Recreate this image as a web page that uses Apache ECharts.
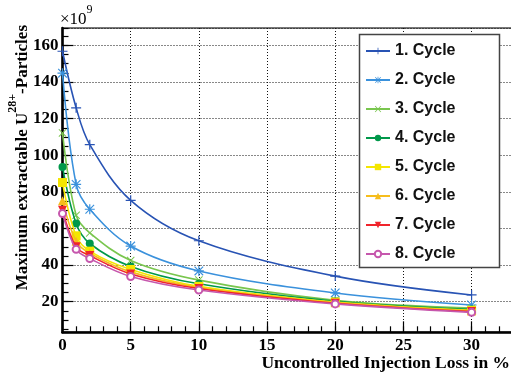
<!DOCTYPE html>
<html>
<head>
<meta charset="utf-8">
<script src="https://cdn.jsdelivr.net/npm/echarts@6/dist/echarts.min.js"></script>
<style>
  html, body { margin: 0; padding: 0; background: #fff; }
  #chart { width: 511px; height: 372px; }
</style>
</head>
<body>
<div id="chart"></div>
<script>
// Extractable U28+ particles vs. uncontrolled injection loss, one curve per cycle

const lossPct = [0, 1, 2, 5, 10, 20, 30];
const cycleNames = ['1. Cycle', '2. Cycle', '3. Cycle', '4. Cycle', '5. Cycle', '6. Cycle', '7. Cycle', '8. Cycle'];

// values in units of 1e9
const cycle1 = [156.8, 125.9, 105.8, 75.4, 53.3, 34.0, 23.7];
const cycle2 = [144.8, 84.1, 70.5, 50.4, 36.8, 24.8, 18.2];
const cycle3 = [112.2, 67.2, 57.6, 42.5, 31.8, 20.8, 16.5];
const cycle4 = [93.6, 62.7, 51.8, 39.3, 29.8, 20.3, 15.8];
const cycle5 = [85.1, 56.0, 47.6, 37.6, 28.4, 19.8, 15.3];
const cycle6 = [75.2, 53.0, 46.5, 36.3, 27.8, 19.5, 15.0];
const cycle7 = [70.0, 50.0, 45.2, 35.2, 27.2, 19.2, 14.6];
const cycle8 = [68.2, 48.6, 43.6, 33.8, 26.4, 18.8, 14.2];

const xTicks = [0, 5, 10, 15, 20, 25, 30];
const yTicks = [20, 40, 60, 80, 100, 120, 140, 160];

(function () {
  const chart = echarts.init(document.getElementById('chart'), null, { renderer: 'canvas' });

  const serif = 'Liberation Serif';
  const sans = 'Liberation Sans';

  // marker shapes (ROOT style)
  const plusPath = 'path://M4.4,0H5.6V10H4.4Z M0,4.4H10V5.6H0Z';
  const starPath = 'path://M4.4,0H5.6V10H4.4Z M0,4.4H10V5.6H0Z M1.1,0.3L9.7,8.9L8.9,9.7L0.3,1.1Z M8.9,0.3L9.7,1.1L1.1,9.7L0.3,8.9Z';
  const crossPath = 'path://M1.1,0.3L9.7,8.9L8.9,9.7L0.3,1.1Z M8.9,0.3L9.7,1.1L1.1,9.7L0.3,8.9Z';

  const styles = [
    { color: '#2853b4', symbol: plusPath, size: 10 },
    { color: '#3a91dc', symbol: starPath, size: 10 },
    { color: '#79c64e', symbol: crossPath, size: 8 },
    { color: '#00984a', symbol: 'circle', size: 8 },
    { color: '#f4e600', symbol: 'rect', size: 9 },
    { color: '#f6bd1c', symbol: 'triangle', size: 9 },
    { color: '#f0242c', symbol: 'triangle', size: 9, rotate: 180 },
    { color: '#c657ad', symbol: 'emptyCircle', size: 7 }
  ];
  const values = [cycle1, cycle2, cycle3, cycle4, cycle5, cycle6, cycle7, cycle8];

  const series = values.map((vals, i) => ({
    name: cycleNames[i],
    type: 'line',
    xAxisIndex: 0,
    yAxisIndex: 0,
    data: lossPct.map((x, j) => [x, vals[j]]),
    smooth: 0.35,
    symbol: styles[i].symbol,
    symbolSize: styles[i].size,
    symbolRotate: styles[i].rotate || 0,
    showSymbol: true,
    lineStyle: { color: styles[i].color, width: 1.6 },
    itemStyle: { color: styles[i].color, borderColor: styles[i].color, borderWidth: styles[i].symbol === 'emptyCircle' ? 1 : 0 },
    emphasis: { disabled: true },
    z: 3 + i
  }));

  const dotted = { color: '#111', width: 1, type: [1, 2] };
  const labelFont = { fontFamily: serif, fontWeight: 'bold', fontSize: 17, color: '#000' };

  const option = {
    animation: false,
    grid: {
      left: 62.5, right: -1.5, top: 28, bottom: 39.7,
      show: true, borderColor: '#777', borderWidth: 2,
      outerBoundsMode: 'none'
    },
    xAxis: [
      {
        type: 'value', min: 0, max: 33, interval: 5, position: 'bottom',
        axisLine: { show: true, onZero: false, lineStyle: { color: '#000', width: 2.5 } },
        axisTick: { show: true, inside: true, length: 11, lineStyle: { color: '#000', width: 1.2 } },
        axisLabel: Object.assign({ margin: 5, showMaxLabel: false,
          formatter: v => (xTicks.indexOf(v) >= 0 ? String(v) : '') }, labelFont),
        splitLine: { show: true, lineStyle: dotted }
      },
      {
        type: 'value', min: 0, max: 33, interval: 1, position: 'bottom',
        axisLine: { show: false },
        axisTick: { show: true, inside: true, length: 6, lineStyle: { color: '#000', width: 1.2 } },
        axisLabel: { show: false },
        splitLine: { show: false }
      }
    ],
    yAxis: [
      {
        type: 'value', min: 3.3, max: 169.5, splitNumber: 8, position: 'left',
        axisLine: { show: true, onZero: false, lineStyle: { color: '#000', width: 2.5 } },
        axisTick: { show: true, inside: true, length: 11, lineStyle: { color: '#000', width: 1.2 } },
        axisLabel: Object.assign({ margin: 4, showMinLabel: false, showMaxLabel: false,
          formatter: v => (yTicks.indexOf(v) >= 0 ? String(v) : '') }, labelFont),
        splitLine: { show: true, lineStyle: dotted }
      },
      {
        type: 'value', min: 3.3, max: 169.5, splitNumber: 33, position: 'left',
        axisLine: { show: false },
        axisTick: { show: true, inside: true, length: 6, lineStyle: { color: '#000', width: 1.2 } },
        axisLabel: { show: false },
        splitLine: { show: false }
      }
    ],
    legend: {
      orient: 'vertical',
      left: 365, top: 42,
      itemWidth: 24, itemHeight: 8, itemGap: 11,
      padding: 0,
      z: 20,
      data: cycleNames,
      textStyle: { fontFamily: sans, fontWeight: 'bold', fontSize: 16, color: '#111', lineHeight: 18 }
    },
    graphic: [
      {
        type: 'rect', z: 10,
        shape: { x: 359.5, y: 34.5, width: 140, height: 233 },
        style: { fill: '#fff', stroke: '#444', lineWidth: 1.5 }
      },
      {
        type: 'text', x: 60, y: 4, z: 10,
        style: {
          text: '{a|×10}{b|9}',
          rich: {
            a: { fontFamily: serif, fontSize: 17, fill: '#000', lineHeight: 24, verticalAlign: 'bottom' },
            b: { fontFamily: serif, fontSize: 12, fill: '#000', lineHeight: 24, verticalAlign: 'top' }
          }
        }
      },
      {
        type: 'text', x: 510, y: 363, z: 10,
        style: {
          text: 'Uncontrolled Injection Loss in %',
          fontFamily: serif, fontWeight: 'bold', fontSize: 17.5, fill: '#000',
          align: 'right', verticalAlign: 'middle'
        }
      },
      {
        type: 'text', x: 19, y: 25, rotation: Math.PI / 2, z: 10,
        style: {
          text: '{t|Maximum extractable U}{s|28+}{t|-Particles}',
          align: 'right', verticalAlign: 'middle',
          rich: {
            t: { fontFamily: serif, fontWeight: 'bold', fontSize: 17, fill: '#000', lineHeight: 24, verticalAlign: 'bottom' },
            s: { fontFamily: serif, fontWeight: 'bold', fontSize: 12, fill: '#000', lineHeight: 24, verticalAlign: 'top' }
          }
        }
      }
    ],
    series: series
  };

  chart.setOption(option);
  window.addEventListener('resize', () => chart.resize());
})();
</script>
</body>
</html>
